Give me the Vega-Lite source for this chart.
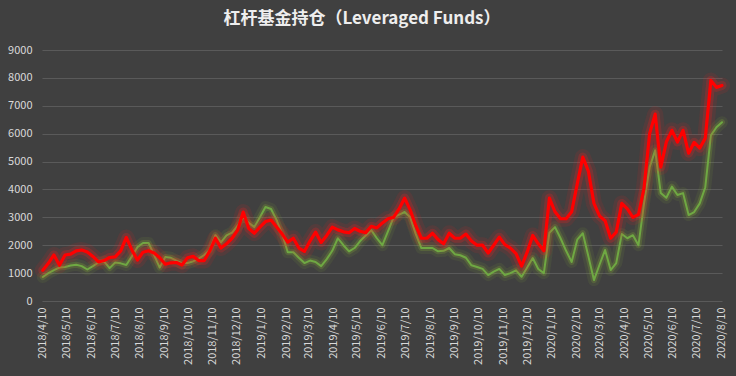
{
  "$schema": "https://vega.github.io/schema/vega-lite/v6.json",
  "autosize": {"type": "none"},
  "width": 680,
  "height": 251,
  "padding": {"left": 42, "top": 50, "right": 14, "bottom": 75},
  "background": "#404040",
  "config": {
    "view": {"stroke": null},
    "font": "Noto Sans CJK SC",
    "line": {"strokeJoin": "round", "strokeCap": "round"}
  },
  "title": {
    "text": "杠杆基金持仓（Leveraged Funds）",
    "fontSize": 17,
    "fontWeight": "bold",
    "color": "#eeeeee",
    "anchor": "middle",
    "dx": -20,
    "offset": 16,
    "font": "Noto Sans CJK SC"
  },
  "data": {
    "values": [
      {"d": "2018-04-10", "r": 1100, "g": 860},
      {"d": "2018-04-17", "r": 1350, "g": 1000},
      {"d": "2018-04-24", "r": 1650, "g": 1110},
      {"d": "2018-05-01", "r": 1280, "g": 1200},
      {"d": "2018-05-08", "r": 1650, "g": 1220},
      {"d": "2018-05-15", "r": 1680, "g": 1270},
      {"d": "2018-05-22", "r": 1800, "g": 1300},
      {"d": "2018-05-29", "r": 1830, "g": 1250},
      {"d": "2018-06-05", "r": 1760, "g": 1130},
      {"d": "2018-06-12", "r": 1600, "g": 1250},
      {"d": "2018-06-19", "r": 1400, "g": 1380},
      {"d": "2018-06-26", "r": 1450, "g": 1420},
      {"d": "2018-07-03", "r": 1560, "g": 1180},
      {"d": "2018-07-10", "r": 1580, "g": 1380},
      {"d": "2018-07-17", "r": 1800, "g": 1350},
      {"d": "2018-07-24", "r": 2280, "g": 1290},
      {"d": "2018-07-31", "r": 1830, "g": 1600},
      {"d": "2018-08-07", "r": 1470, "g": 1930},
      {"d": "2018-08-14", "r": 1750, "g": 2080},
      {"d": "2018-08-21", "r": 1800, "g": 2080},
      {"d": "2018-08-28", "r": 1720, "g": 1650},
      {"d": "2018-09-04", "r": 1550, "g": 1200},
      {"d": "2018-09-11", "r": 1320, "g": 1580},
      {"d": "2018-09-18", "r": 1370, "g": 1550},
      {"d": "2018-09-25", "r": 1380, "g": 1450},
      {"d": "2018-10-02", "r": 1290, "g": 1360},
      {"d": "2018-10-09", "r": 1550, "g": 1360},
      {"d": "2018-10-16", "r": 1600, "g": 1420},
      {"d": "2018-10-23", "r": 1450, "g": 1520},
      {"d": "2018-10-30", "r": 1450, "g": 1650},
      {"d": "2018-11-06", "r": 1800, "g": 1830},
      {"d": "2018-11-13", "r": 2250, "g": 2360},
      {"d": "2018-11-20", "r": 1900, "g": 2100},
      {"d": "2018-11-27", "r": 2050, "g": 2350},
      {"d": "2018-12-04", "r": 2250, "g": 2450},
      {"d": "2018-12-11", "r": 2540, "g": 2700},
      {"d": "2018-12-18", "r": 3190, "g": 3000},
      {"d": "2018-12-25", "r": 2600, "g": 2800},
      {"d": "2019-01-01", "r": 2430, "g": 2650},
      {"d": "2019-01-08", "r": 2650, "g": 3000},
      {"d": "2019-01-15", "r": 2850, "g": 3370},
      {"d": "2019-01-22", "r": 2900, "g": 3300},
      {"d": "2019-01-29", "r": 2650, "g": 2900},
      {"d": "2019-02-05", "r": 2400, "g": 2400},
      {"d": "2019-02-12", "r": 2110, "g": 1750},
      {"d": "2019-02-19", "r": 2250, "g": 1750},
      {"d": "2019-02-26", "r": 1900, "g": 1550},
      {"d": "2019-03-05", "r": 1780, "g": 1360},
      {"d": "2019-03-12", "r": 2150, "g": 1450},
      {"d": "2019-03-19", "r": 2470, "g": 1400},
      {"d": "2019-03-26", "r": 2100, "g": 1250},
      {"d": "2019-04-02", "r": 2350, "g": 1500},
      {"d": "2019-04-09", "r": 2650, "g": 1800},
      {"d": "2019-04-16", "r": 2550, "g": 2250},
      {"d": "2019-04-23", "r": 2480, "g": 2000},
      {"d": "2019-04-30", "r": 2450, "g": 1780},
      {"d": "2019-05-07", "r": 2600, "g": 1900},
      {"d": "2019-05-14", "r": 2500, "g": 2150},
      {"d": "2019-05-21", "r": 2450, "g": 2350},
      {"d": "2019-05-28", "r": 2680, "g": 2540},
      {"d": "2019-06-04", "r": 2620, "g": 2250},
      {"d": "2019-06-11", "r": 2800, "g": 2000},
      {"d": "2019-06-18", "r": 2950, "g": 2500},
      {"d": "2019-06-25", "r": 3000, "g": 3000},
      {"d": "2019-07-02", "r": 3300, "g": 3100},
      {"d": "2019-07-09", "r": 3690, "g": 3190},
      {"d": "2019-07-16", "r": 3260, "g": 3000},
      {"d": "2019-07-23", "r": 2700, "g": 2400},
      {"d": "2019-07-30", "r": 2250, "g": 1900},
      {"d": "2019-08-06", "r": 2250, "g": 1900},
      {"d": "2019-08-13", "r": 2430, "g": 1900},
      {"d": "2019-08-20", "r": 2200, "g": 1780},
      {"d": "2019-08-27", "r": 2050, "g": 1800},
      {"d": "2019-09-03", "r": 2430, "g": 1900},
      {"d": "2019-09-10", "r": 2250, "g": 1680},
      {"d": "2019-09-17", "r": 2250, "g": 1640},
      {"d": "2019-09-24", "r": 2400, "g": 1550},
      {"d": "2019-10-01", "r": 2150, "g": 1280},
      {"d": "2019-10-08", "r": 2000, "g": 1220},
      {"d": "2019-10-15", "r": 2000, "g": 1150},
      {"d": "2019-10-22", "r": 1720, "g": 930},
      {"d": "2019-10-29", "r": 2000, "g": 1050},
      {"d": "2019-11-05", "r": 2290, "g": 1150},
      {"d": "2019-11-12", "r": 2020, "g": 930},
      {"d": "2019-11-19", "r": 1900, "g": 1000},
      {"d": "2019-11-26", "r": 1700, "g": 1100},
      {"d": "2019-12-03", "r": 1250, "g": 870},
      {"d": "2019-12-10", "r": 1750, "g": 1200},
      {"d": "2019-12-17", "r": 2350, "g": 1540},
      {"d": "2019-12-24", "r": 2050, "g": 1150},
      {"d": "2019-12-31", "r": 1800, "g": 1000},
      {"d": "2020-01-07", "r": 3690, "g": 2450},
      {"d": "2020-01-14", "r": 3200, "g": 2650},
      {"d": "2020-01-21", "r": 2950, "g": 2250},
      {"d": "2020-01-28", "r": 2950, "g": 1800},
      {"d": "2020-02-04", "r": 3200, "g": 1400},
      {"d": "2020-02-11", "r": 4200, "g": 2200},
      {"d": "2020-02-18", "r": 5160, "g": 2430},
      {"d": "2020-02-25", "r": 4650, "g": 1600},
      {"d": "2020-03-03", "r": 3500, "g": 750},
      {"d": "2020-03-10", "r": 3050, "g": 1300},
      {"d": "2020-03-17", "r": 2880, "g": 1830},
      {"d": "2020-03-24", "r": 2250, "g": 1110},
      {"d": "2020-03-31", "r": 2470, "g": 1360},
      {"d": "2020-04-07", "r": 3500, "g": 2400},
      {"d": "2020-04-14", "r": 3300, "g": 2250},
      {"d": "2020-04-21", "r": 3000, "g": 2360},
      {"d": "2020-04-28", "r": 3100, "g": 2000},
      {"d": "2020-05-05", "r": 4050, "g": 3510},
      {"d": "2020-05-12", "r": 6000, "g": 4800},
      {"d": "2020-05-19", "r": 6700, "g": 5400},
      {"d": "2020-05-26", "r": 4800, "g": 3870},
      {"d": "2020-06-02", "r": 5700, "g": 3700},
      {"d": "2020-06-09", "r": 6120, "g": 4100},
      {"d": "2020-06-16", "r": 5700, "g": 3800},
      {"d": "2020-06-23", "r": 6120, "g": 3870},
      {"d": "2020-06-30", "r": 5300, "g": 3080},
      {"d": "2020-07-07", "r": 5690, "g": 3190},
      {"d": "2020-07-14", "r": 5480, "g": 3500},
      {"d": "2020-07-21", "r": 5840, "g": 4080},
      {"d": "2020-07-28", "r": 7910, "g": 5940},
      {"d": "2020-08-04", "r": 7660, "g": 6230},
      {"d": "2020-08-11", "r": 7730, "g": 6410}
    ]
  },
  "transform": [{"fold": ["r", "g"], "as": ["s", "v"]}],
  "encoding": {
    "x": {
      "field": "d",
      "type": "temporal",
      "scale": {
        "type": "utc",
        "domain": [
          {"year": 2018, "month": 4, "date": 9, "utc": true},
          {"year": 2020, "month": 8, "date": 11, "utc": true}
        ]
      },
      "axis": {
        "title": null,
        "domain": false,
        "ticks": false,
        "grid": false,
        "labelAngle": -90,
        "labelAlign": "right",
        "labelBaseline": "middle",
        "labelPadding": 6,
        "labelColor": "#d9d9d9",
        "labelFontSize": 11,
        "labelFont": "Noto Sans CJK SC",
        "labelOverlap": false,
        "format": "%Y/%-m/%-d",
        "values": [
          {"year": 2018, "month": 4, "date": 10, "utc": true},
          {"year": 2018, "month": 5, "date": 10, "utc": true},
          {"year": 2018, "month": 6, "date": 10, "utc": true},
          {"year": 2018, "month": 7, "date": 10, "utc": true},
          {"year": 2018, "month": 8, "date": 10, "utc": true},
          {"year": 2018, "month": 9, "date": 10, "utc": true},
          {"year": 2018, "month": 10, "date": 10, "utc": true},
          {"year": 2018, "month": 11, "date": 10, "utc": true},
          {"year": 2018, "month": 12, "date": 10, "utc": true},
          {"year": 2019, "month": 1, "date": 10, "utc": true},
          {"year": 2019, "month": 2, "date": 10, "utc": true},
          {"year": 2019, "month": 3, "date": 10, "utc": true},
          {"year": 2019, "month": 4, "date": 10, "utc": true},
          {"year": 2019, "month": 5, "date": 10, "utc": true},
          {"year": 2019, "month": 6, "date": 10, "utc": true},
          {"year": 2019, "month": 7, "date": 10, "utc": true},
          {"year": 2019, "month": 8, "date": 10, "utc": true},
          {"year": 2019, "month": 9, "date": 10, "utc": true},
          {"year": 2019, "month": 10, "date": 10, "utc": true},
          {"year": 2019, "month": 11, "date": 10, "utc": true},
          {"year": 2019, "month": 12, "date": 10, "utc": true},
          {"year": 2020, "month": 1, "date": 10, "utc": true},
          {"year": 2020, "month": 2, "date": 10, "utc": true},
          {"year": 2020, "month": 3, "date": 10, "utc": true},
          {"year": 2020, "month": 4, "date": 10, "utc": true},
          {"year": 2020, "month": 5, "date": 10, "utc": true},
          {"year": 2020, "month": 6, "date": 10, "utc": true},
          {"year": 2020, "month": 7, "date": 10, "utc": true},
          {"year": 2020, "month": 8, "date": 10, "utc": true}
        ]
      }
    },
    "y": {
      "field": "v",
      "type": "quantitative",
      "scale": {"domain": [0, 9000]},
      "axis": {
        "title": null,
        "values": [0, 1000, 2000, 3000, 4000, 5000, 6000, 7000, 8000, 9000],
        "format": "d",
        "labelOverlap": false,
        "domain": false,
        "ticks": false,
        "grid": true,
        "gridColor": "#5a5a5a",
        "gridWidth": 1,
        "labelColor": "#d9d9d9",
        "labelFontSize": 11,
        "labelFont": "Noto Sans CJK SC",
        "labelPadding": 10
      }
    }
  },
  "layer": [
    {
      "transform": [{"filter": "datum.s == 'g'"}],
      "mark": {"type": "line", "color": "#9acd32", "strokeWidth": 12, "opacity": 0.08}
    },
    {
      "transform": [{"filter": "datum.s == 'g'"}],
      "mark": {"type": "line", "color": "#9acd32", "strokeWidth": 6, "opacity": 0.18}
    },
    {
      "transform": [{"filter": "datum.s == 'g'"}],
      "mark": {"type": "line", "color": "#6fa843", "strokeWidth": 2}
    },
    {
      "transform": [{"filter": "datum.s == 'r'"}],
      "mark": {"type": "line", "color": "#ff2020", "strokeWidth": 16, "opacity": 0.1}
    },
    {
      "transform": [{"filter": "datum.s == 'r'"}],
      "mark": {"type": "line", "color": "#ff2020", "strokeWidth": 9, "opacity": 0.22}
    },
    {
      "transform": [{"filter": "datum.s == 'r'"}],
      "mark": {"type": "line", "color": "#ff0000", "strokeWidth": 3.2}
    }
  ]
}
